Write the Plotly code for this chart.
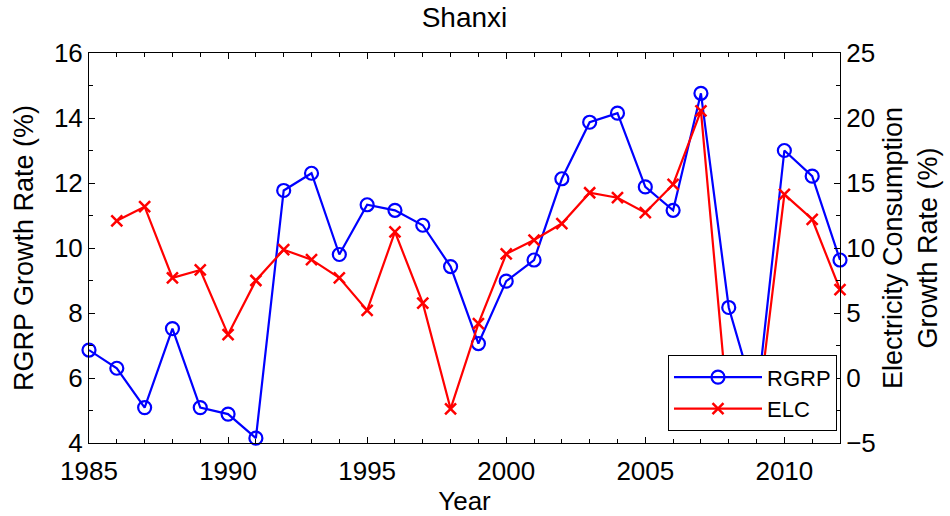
import plotly.graph_objects as go

years = list(range(1985, 2013))
rgrp = [6.86, 6.30, 5.09, 7.52, 5.09, 4.89, 4.15, 11.77, 12.30, 9.80,
        11.33, 11.16, 10.70, 9.43, 7.06, 8.98, 9.63, 12.13, 13.87, 14.15,
        11.88, 11.16, 14.76, 8.17, 5.21, 13.00, 12.21, 9.63]
elc_years = list(range(1986, 2013))
elc = [12.09, 13.18, 7.70, 8.31, 3.34, 7.50, 9.87, 9.10, 7.70,
       5.20, 11.24, 5.76, -2.37, 4.18, 9.54, 10.61, 11.88, 14.25, 13.87,
       12.72, 14.89, 20.55, -3.2, -3.5, 14.13, 12.21, 6.80]

FONT = "Liberation Sans, Arial, Helvetica, sans-serif"
BLUE = "rgb(0,0,255)"
RED = "rgb(255,0,0)"

fig = go.Figure()
fig.add_trace(go.Scatter(
    x=years, y=rgrp, name="RGRP", mode="lines+markers", cliponaxis=False,
    line=dict(color=BLUE, width=2.2),
    marker=dict(symbol="circle-open", size=13, color=BLUE, line=dict(width=2.2, color=BLUE)),
    yaxis="y"))
fig.add_trace(go.Scatter(
    x=elc_years, y=elc, name="ELC", mode="lines+markers", cliponaxis=False,
    line=dict(color=RED, width=2.2),
    marker=dict(symbol="x-thin-open", size=11, color=RED, line=dict(width=2.5, color=RED)),
    yaxis="y2"))

fig.update_layout(
    width=950, height=516,
    margin=dict(l=89, r=110, t=53, b=71),
    paper_bgcolor="white", plot_bgcolor="white",
    font=dict(family=FONT, size=26, color="black"),
    title=dict(text="Shanxi", x=0.5, xref="paper", xanchor="center",
               y=1, yref="container", yanchor="top", pad=dict(t=7),
               font=dict(family=FONT, size=28, color="black")),
    showlegend=True,
    legend=dict(x=0.996, y=0.03, xanchor="right", yanchor="bottom",
                bordercolor="black", borderwidth=1, bgcolor="white",
                font=dict(family=FONT, size=22, color="black"),
                itemwidth=88, tracegroupgap=0),
    xaxis=dict(range=[1985, 2012], tickmode="linear", tick0=1985, dtick=5,
               ticks="inside", ticklen=6, tickcolor="black", tickwidth=1,
               minor=dict(ticks="inside", dtick=1, tick0=1985, ticklen=4, tickcolor="black", showgrid=False),
               showline=True, linecolor="black", linewidth=1, mirror="ticks",
               showgrid=False, zeroline=False, ticklabelstandoff=5,
               title=dict(text="Year", standoff=0, font=dict(size=26)),
               tickfont=dict(size=26)),
    yaxis=dict(range=[4, 16], tickmode="linear", tick0=4, dtick=2,
               ticks="inside", ticklen=6, tickcolor="black", tickwidth=1,
               minor=dict(ticks="inside", dtick=1, ticklen=4, tickcolor="black", showgrid=False),
               showline=True, linecolor="black", linewidth=1,
               showgrid=False, zeroline=False,
               title=dict(text="RGRP Growth Rate (%)", standoff=12, font=dict(size=27)),
               tickfont=dict(size=26)),
    yaxis2=dict(range=[-5, 25], tickmode="linear", tick0=-5, dtick=5,
                overlaying="y", side="right",
                ticks="inside", ticklen=6, tickcolor="black", tickwidth=1,
                minor=dict(ticks="inside", dtick=2.5, ticklen=4, tickcolor="black", showgrid=False),
                showline=True, linecolor="black", linewidth=1,
                showgrid=False, zeroline=False,
                title=dict(text="Electricity Consumption<br>Growth Rate (%)", standoff=8, font=dict(size=27)),
                tickfont=dict(size=26)),
)

fig.write_html("out.html")
